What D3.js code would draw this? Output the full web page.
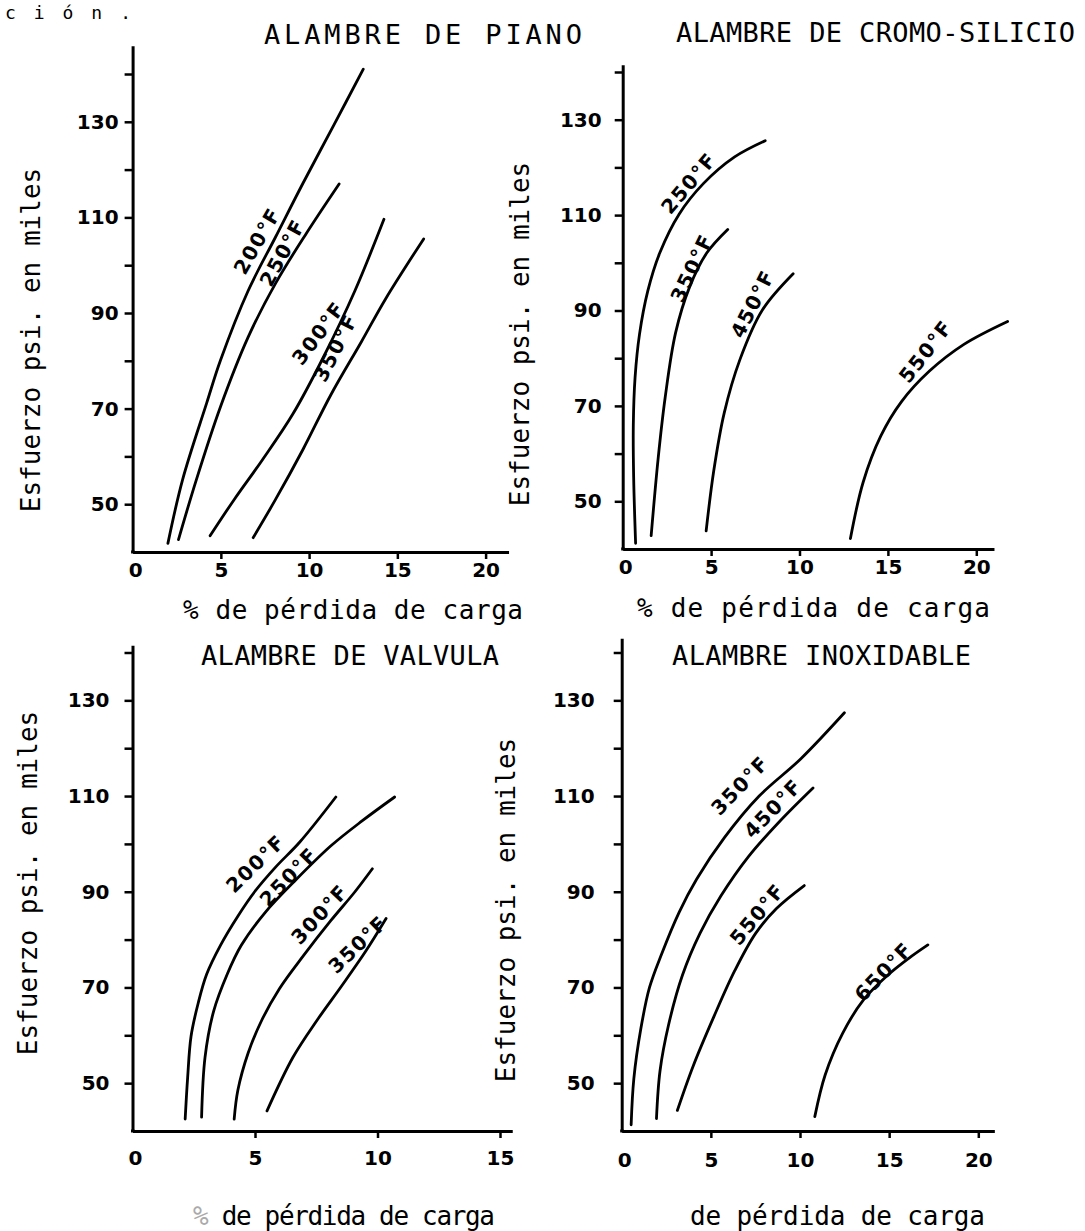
<!DOCTYPE html>
<html><head><meta charset="utf-8">
<script src="https://cdn.jsdelivr.net/npm/d3@7"></script>
<style>body{margin:0;background:#fff}</style>
</head><body>
<svg id="c" width="1085" height="1231"></svg>
<script>
// ---------- DATA ----------
const yTickValues = [50, 60, 70, 80, 90, 100, 110, 120, 130, 140];
const yTickLabels = [50, 70, 90, 110, 130];
const xTicks20 = [5, 10, 15, 20];
const xTicks15 = [5, 10, 15];
const xLabels20 = [0, 5, 10, 15, 20];
const xLabels15 = [0, 5, 10, 15];

const titles = ["ALAMBRE DE PIANO", "ALAMBRE DE CROMO-SILICIO", "ALAMBRE DE VALVULA", "ALAMBRE INOXIDABLE"];
const xTitle = "% de pérdida de carga";
const yTitle = "Esfuerzo psi. en miles";

const pianoTemps = ["200°F", "250°F", "300°F", "350°F"];
const piano200 = [[2.0,41.8],[2.83,55.1],[4.2,71.2],[4.98,80.1],[6.54,94.6],[8.1,105.9],[9.66,117.2],[11.4,129.3],[13.07,141]];
const piano250 = [[2.6,42.6],[3.61,55.1],[4.98,70.4],[6.54,84.9],[8.1,96.2],[9.85,106.7],[11.7,117]];
const piano300 = [[4.39,43.4],[5.76,51],[7.32,59.1],[9.07,68.8],[10.83,80.9],[12.59,94.6],[14.24,109.6]];
const piano350 = [[6.83,43],[8.1,51],[9.66,61.5],[11.22,72.8],[12.98,84.1],[14.34,93],[16.49,105.5]];

const cromoTemps = ["250°F", "350°F", "450°F", "550°F"];
const cromo250 = [[0.73,41.2],[0.62,55],[0.6,66],[0.7,76],[0.95,85],[1.42,94.1],[2.1,102.1],[3.19,110.2],[4.56,116.6],[6.33,122.2],[8.06,125.6]];
const cromo350 = [[1.61,42.8],[2.0,58.8],[2.4,71.7],[2.99,85.3],[3.78,94.9],[4.76,102.1],[5.94,107]];
const cromo450 = [[4.72,43.8],[5.15,56.4],[5.74,68.5],[6.63,79.7],[7.9,90.1],[9.64,97.7]];
const cromo550 = [[12.88,42.2],[13.6,54],[14.6,63.7],[15.77,70.9],[17.35,77.3],[19.3,82.9],[21.77,87.7]];

const valvTemps = ["200°F", "250°F", "300°F", "350°F"];
const valv200 = [[2.15,42.5],[2.25,51.1],[2.39,59.8],[2.68,66.7],[3.03,72.8],[3.59,78.8],[4.3,84.9],[5.0,90.1],[5.85,95.2],[6.83,100.4],[8.3,109.8]];
const valv250 = [[2.82,42.9],[2.96,55.4],[3.31,65],[3.87,72.8],[4.44,78.8],[5.42,85.7],[6.69,92.6],[8.1,99.6],[9.37,104.8],[10.7,109.8]];
const valv300 = [[4.15,42.5],[4.3,48.5],[4.72,56.3],[5.28,63.2],[5.99,69.7],[6.97,76.6],[8.1,84],[9.08,90],[9.79,94.8]];
const valv350 = [[5.49,44.2],[6.55,55.4],[7.54,63.2],[8.52,70.2],[9.51,77.5],[10.35,84.4]];

const inoxTemps = ["350°F", "450°F", "550°F", "650°F"];
const inox350 = [[0.53,41.3],[0.68,50.9],[1.07,61.3],[1.56,70],[2.24,77],[3.22,85.7],[4.2,92.6],[5.76,101.3],[7.71,110],[10.05,117.8],[12.49,127.4]];
const inox450 = [[1.95,42.6],[2.15,52.6],[2.63,62.2],[3.41,72.6],[4.39,81.3],[5.56,89.1],[7.12,97.4],[8.88,104.8],[10.73,111.7]];
const inox550 = [[3.12,44.3],[4.0,53.5],[5.17,63.9],[6.34,73.5],[7.51,81.3],[8.68,86.5],[10.24,91.3]];
const inox650 = [[10.83,43],[11.41,51.7],[12.39,60.4],[13.56,67.4],[14.93,72.6],[16.1,76.1],[17.17,78.9]];

// ---------- LAYOUT ----------
const mono = "'DejaVu Sans Mono','Liberation Mono',monospace";
const hand = "'DejaVu Sans',sans-serif";

const panels = [
  { title: titles[0], tX: [264, 582], tBase: 44,
    xt: xTitle, xtX: [183, 523], xtBase: 619,
    ytX: 40, ytCY: 340,
    x0: 132.6, xpu: 17.65, xEnd: 21.3, y0: 552, ypu: 4.78, yTop: 145.9,
    xTicks: xTicks20, xLabels: xLabels20, yPad: 6, xPad: 4,
    series: [piano200, piano250, piano300, piano350], temps: pianoTemps,
    lab: [[7.06,105.1,-60],[8.49,102.6,-61.6],[10.53,85.8,-53],[11.5,82.7,-63]] },
  { title: titles[1], tX: [676, 1075], tBase: 42,
    xt: xTitle, xtX: [637, 990], xtBase: 617,
    ytX: 529, ytCY: 334,
    x0: 622.7, xpu: 17.68, xEnd: 21.0, y0: 549, ypu: 4.77, yTop: 141.5,
    xTicks: xTicks20, xLabels: xLabels20, yPad: 13, xPad: 4,
    series: [cromo250, cromo350, cromo450, cromo550], temps: cromoTemps,
    lab: [[3.74,116.7,-49.6],[3.91,98.9,-64.5],[7.35,91.4,-63.3],[17.14,81.4,-52]] },
  { title: titles[2], tX: [201, 499], tBase: 665,
    xt: xTitle, xtX: [193, 495], xtBase: 1225, faintPct: true,
    ytX: 37, ytCY: 883,
    x0: 132.5, xpu: 24.5, xEnd: 15.5, y0: 1131, ypu: 4.785, yTop: 141.5,
    xTicks: xTicks15, xLabels: xLabels15, yPad: 15, xPad: 13,
    series: [valv200, valv250, valv300, valv350], temps: valvTemps,
    lab: [[5.02,95.9,-44],[6.37,93.1,-46],[7.64,85.3,-47],[9.2,79,-44]] },
  { title: titles[3], tX: [672, 971], tBase: 665,
    xt: "de pérdida de carga", xtX: [690, 985], xtBase: 1225,
    ytX: 515, ytCY: 910,
    x0: 621.7, xpu: 17.83, xEnd: 20.9, y0: 1131, ypu: 4.785, yTop: 143,
    xTicks: xTicks20, xLabels: xLabels20, yPad: 19, xPad: 15,
    series: [inox350, inox450, inox550, inox650], temps: inoxTemps,
    lab: [[6.63,112.2,-46],[8.48,107.4,-46],[7.6,85.3,-50],[14.68,73.3,-46]] }
];

const svg = d3.select("#c");
svg.append("rect").attr("width", 1085).attr("height", 1231).attr("fill", "#fff");

// partial line of text at top of scan
svg.append("text").attr("x", 5).attr("y", 19).attr("font-family", mono).attr("font-size", 18)
  .attr("textLength", 126).attr("lengthAdjust", "spacing").text("ción.");

panels.forEach(p => {
  const g = svg.append("g");
  const x = d3.scaleLinear().domain([0, p.xEnd]).range([p.x0, p.x0 + p.xEnd * p.xpu]);
  const y = d3.scaleLinear().domain([40, p.yTop]).range([p.y0, p.y0 - (p.yTop - 40) * p.ypu]);

  const ya = g.append("g").attr("transform", `translate(${p.x0},0)`)
    .call(d3.axisLeft(y).tickValues(yTickValues).tickSizeInner(8).tickSizeOuter(0).tickPadding(p.yPad)
      .tickFormat(d => yTickLabels.includes(d) ? d : ""));
  const xa = g.append("g").attr("transform", `translate(0,${p.y0})`)
    .call(d3.axisBottom(x).tickValues(p.xTicks).tickSizeInner(7).tickSizeOuter(0).tickPadding(p.xPad)
      .tickFormat(d => p.xLabels.includes(d) ? d : ""));
  xa.append("text").attr("x", x(0) + 3).attr("y", 7 + p.xPad).attr("dy", "0.71em")
    .attr("text-anchor", "middle").text("0");

  [ya, xa].forEach(a => {
    a.select(".domain").attr("stroke", "#000").attr("stroke-width", 3);
    a.selectAll(".tick line").attr("stroke", "#000").attr("stroke-width", 2.5);
    a.selectAll("text").attr("font-family", hand).attr("font-weight", "bold")
      .attr("font-size", 20).attr("fill", "#000");
  });
  g.append("line").attr("x1", p.x0 - 1.5).attr("x2", p.x0 + 2).attr("y1", p.y0).attr("y2", p.y0)
    .attr("stroke", "#000").attr("stroke-width", 3);

  const line = d3.line().x(d => x(d[0])).y(d => y(d[1])).curve(d3.curveCatmullRom.alpha(0.5));
  p.series.forEach((s, i) => {
    g.append("path").attr("d", line(s)).attr("fill", "none").attr("stroke", "#000")
      .attr("stroke-width", 2.8).attr("stroke-linecap", "round");
    const L = p.lab[i];
    g.append("text").attr("transform", `translate(${x(L[0])},${y(L[1])}) rotate(${L[2]})`)
      .attr("text-anchor", "middle").attr("dominant-baseline", "central")
      .attr("font-family", hand).attr("font-weight", "bold").attr("font-size", 20)
      .attr("letter-spacing", 1.5).text(p.temps[i]);
  });

  g.append("text").attr("x", p.tX[0]).attr("y", p.tBase).attr("font-family", mono).attr("font-size", 27)
    .attr("textLength", p.tX[1] - p.tX[0]).attr("lengthAdjust", "spacing").text(p.title);

  const xt = g.append("text").attr("x", p.xtX[0]).attr("y", p.xtBase).attr("font-family", mono)
    .attr("font-size", 26).attr("textLength", p.xtX[1] - p.xtX[0]).attr("lengthAdjust", "spacing");
  if (p.faintPct) {
    xt.append("tspan").attr("fill", "#aaa").text(p.xt.slice(0, 1));
    xt.append("tspan").text(p.xt.slice(1));
  } else {
    xt.text(p.xt);
  }

  g.append("text").attr("transform", `translate(${p.ytX},${p.ytCY}) rotate(-90)`)
    .attr("text-anchor", "middle").attr("font-family", mono).attr("font-size", 26)
    .text(yTitle);
});
</script>
</body></html>
